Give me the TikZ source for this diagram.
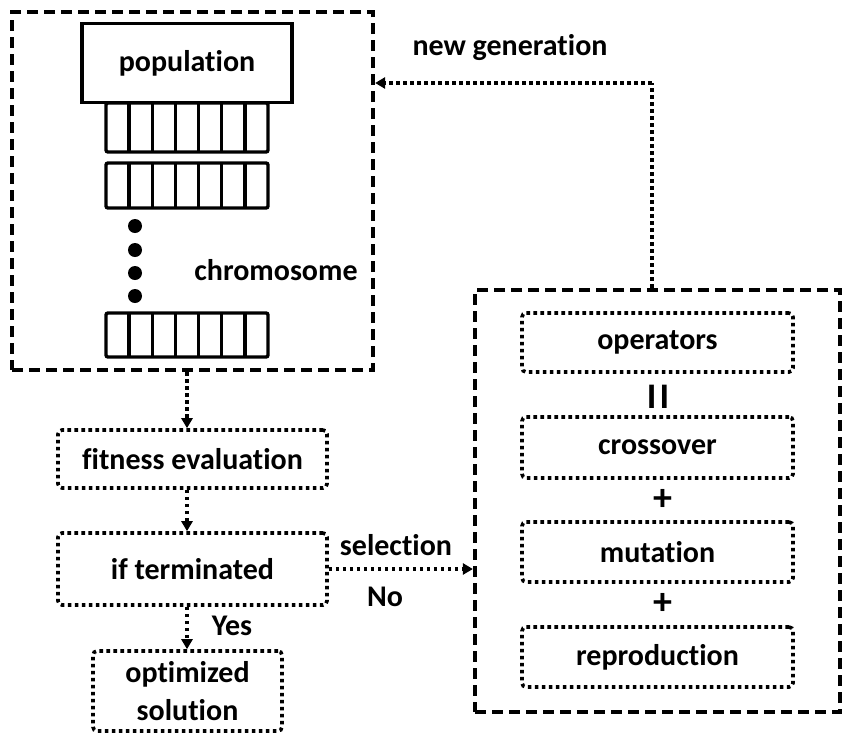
\documentclass[tikz,border=0pt]{standalone}
\usepackage{fontspec}
\setmainfont{Carlito}[Ligatures=NoCommon]
\usetikzlibrary{arrows.meta,calc}
\begin{document}
\begin{tikzpicture}[x=1pt,y=-1pt,
  txt/.style={font=\fontsize{30}{38}\selectfont\bfseries},
  dashbox/.style={draw,line width=4.2pt,dash pattern=on 11pt off 6pt,inner sep=0pt},
  dotbox/.style={draw,line width=3.6pt,dash pattern=on 3.6pt off 3.4pt,rounded corners=4pt,inner sep=0pt,txt},
  solidbox/.style={draw,line width=3.4pt,inner sep=0pt,txt},
  dotarrow/.style={line width=3.6pt,dash pattern=on 3.6pt off 3.4pt,-{Triangle[length=10pt,width=11pt]}},
  dotline/.style={line width=3.6pt,dash pattern=on 3.6pt off 3.4pt},
  cellrow/.style={line width=3.4pt,rounded corners=2pt}
]
\useasboundingbox (0,0) rectangle (843,734);
\fill[white] (0,0) rectangle (843,734);

% left dashed box
\node[dashbox,minimum width=361pt,minimum height=358pt] (leftbox) at (192.5,191) {};
\node[solidbox,minimum width=210pt,minimum height=79pt] (pop) at (187,63) {population};

% chromosome rows
\foreach \ya/\yb in {103/152,163/208,313/357}{
  \draw[cellrow] (106,\ya) rectangle (268,\yb);
  \foreach \i in {1,...,6}{
    \draw[line width=3.4pt] ({106+\i*162/7},\ya) -- ({106+\i*162/7},\yb);
  }
}
\foreach \yy in {226,250,273,296}{
  \fill (135,\yy) circle (7pt);
}
\node[txt] (chrom) at (276,270) {chromosome};

% left column
\node[dotbox,minimum width=269pt,minimum height=58pt] (fit) at (192.5,459) {fitness evaluation};
\node[dotbox,minimum width=269pt,minimum height=72pt] (term) at (192.5,569) {if terminated};
\node[dotbox,minimum width=189pt,minimum height=80pt,align=center] (opt) at (187.5,691) {optimized\\solution};

\draw[dotarrow] (pop.south |- leftbox.south) -- (pop.south |- fit.north);
\draw[dotarrow] (pop.south |- fit.south) -- (pop.south |- term.north);
\draw[dotarrow] (pop.south |- term.south) -- (pop.south |- opt.north);
\node[txt] (yes) at (232,626) {Yes};

% right dashed box
\node[dashbox,minimum width=365pt,minimum height=422pt] (rightbox) at (657.5,501) {};
\node[dotbox,minimum width=271pt,minimum height=59pt] (ops) at (657.5,342.5) {operators};
\node[dotbox,minimum width=271pt,minimum height=61pt] (cross) at (657.5,447.5) {crossover};
\node[dotbox,minimum width=271pt,minimum height=60pt] (mut) at (657.5,552) {mutation};
\node[dotbox,minimum width=271pt,minimum height=60pt] (rep) at (657.5,657) {reproduction};
\node[txt,font=\fontsize{36}{38}\selectfont\bfseries] (eq) at (658,397) {I\kern3pt I};
\node[txt,font=\fontsize{38}{40}\selectfont\bfseries] (plus1) at (663,500) {+};
\node[txt,font=\fontsize{38}{40}\selectfont\bfseries] (plus2) at (663,604) {+};

% selection
\draw[dotarrow] (term.east) -- (rightbox.west |- term.east);
\node[txt] (sel) at (396,545) {selection};
\node[txt] (no) at (385,597) {No};

% new generation
\coordinate (ng) at (652,83);
\draw[dotline] (rightbox.north -| ng) -- (ng);
\draw[dotarrow] (ng) -- (leftbox.east |- ng);
\node[txt] (newgen) at (510,48) {new generation};
\end{tikzpicture}
\end{document}
